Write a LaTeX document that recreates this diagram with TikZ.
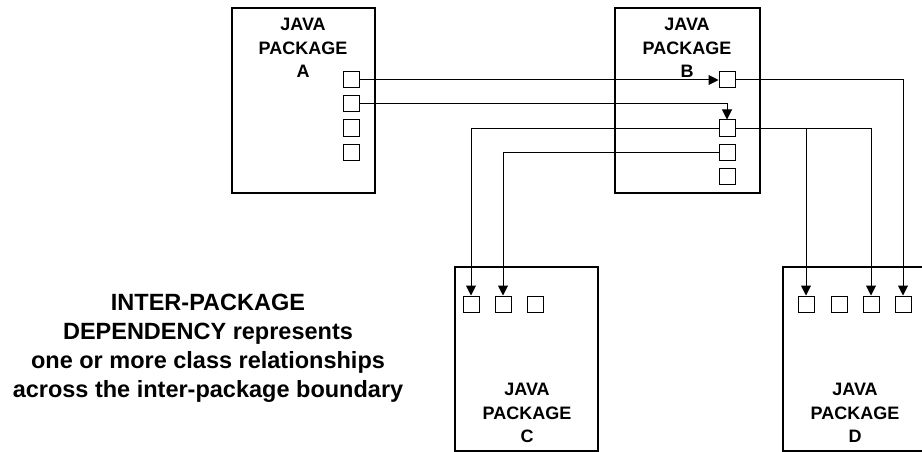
\documentclass[tikz,border=0pt]{standalone}
\usepackage{fontspec}
\setmainfont{Liberation Sans}
\usetikzlibrary{arrows.meta}

\begin{document}
\begin{tikzpicture}[x=1pt,y=-1pt,
    pkg/.style={draw,line width=2.8pt,inner sep=0pt},
    cls/.style={draw,line width=1pt,minimum size=16pt,inner sep=0pt},
    dep/.style={line width=1pt,-{Triangle[length=10pt,width=10pt]}},
    lbl/.style={font=\bfseries\fontsize{18}{23.5}\selectfont,align=center}]
      \useasboundingbox (0,0) rectangle (922,452);
      \clip (0,0) rectangle (922,452);
      % packages
      \node[pkg,minimum width=143pt,minimum height=185pt] (pkgA) at (303.5,100.5) {};
      \node[pkg,minimum width=145pt,minimum height=185pt] (pkgB) at (687.5,100.5) {};
      \node[pkg,minimum width=143pt,minimum height=184pt] (pkgC) at (526.5,359) {};
      \node[pkg,minimum width=145pt,minimum height=184pt] (pkgD) at (855.5,359) {};
      \node[lbl] (labA) at (303,48) {JAVA\\PACKAGE\\A};
      \node[lbl] (labB) at (687,48) {JAVA\\PACKAGE\\B};
      \node[lbl] (labC) at (527,413) {JAVA\\PACKAGE\\C};
      \node[lbl] (labD) at (855,413) {JAVA\\PACKAGE\\D};
      % classes
      \foreach \i/\y in {1/80,2/104,3/128,4/152}
        \node[cls] (A\i) at (351,\y) {};
      \foreach \i/\y in {1/80,2/128,3/152,4/176}
        \node[cls] (B\i) at (727,\y) {};
      \foreach \i/\x in {1/471,2/503,3/535}
        \node[cls] (C\i) at (\x,304) {};
      \foreach \i/\x in {1/806,2/839,3/871,4/903}
        \node[cls] (D\i) at (\x,304) {};
      % dependencies
      \draw[dep] (A1) -- (B1);
      \draw[dep] (A2) -| (B2);
      \draw[dep] (B1) -| (D4);
      \draw[dep] (B2) -| (D3);
      \draw[dep] (B2) -| (D1);
      \draw[dep] (B2) -| (C1);
      \draw[dep] (B3) -| (C2);
      \node[font=\bfseries\fontsize{23.5}{29}\selectfont,align=center] (note) at (208,348)
        {INTER-PACKAGE\\DEPENDENCY represents\\one or more class relationships\\across the inter-package boundary};
\end{tikzpicture}
\end{document}
